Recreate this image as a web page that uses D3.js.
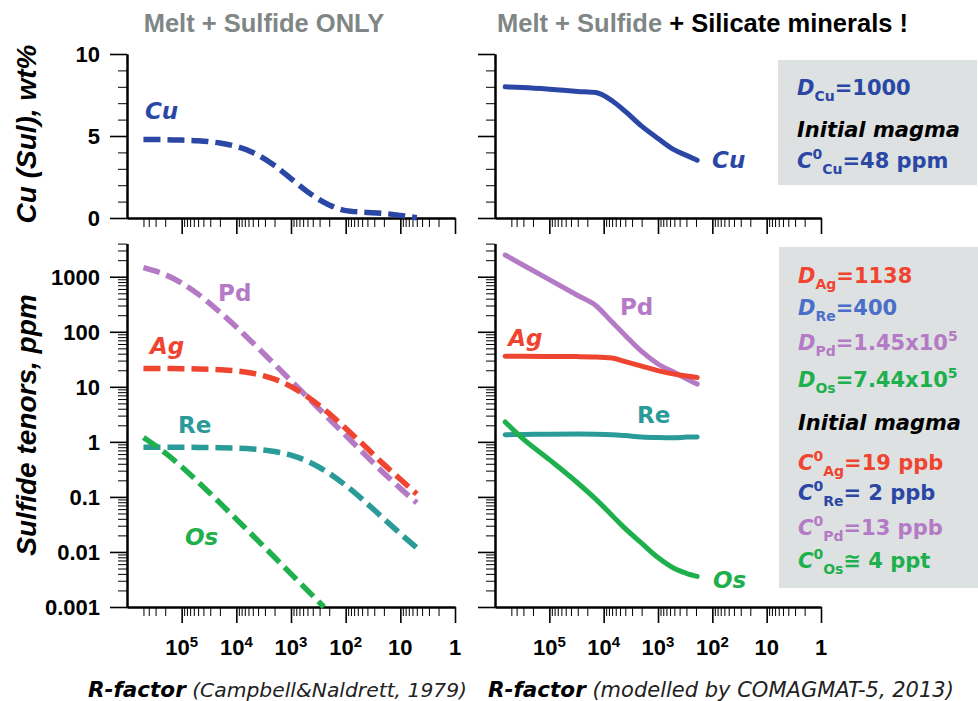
<!DOCTYPE html>
<html>
<head>
<meta charset="utf-8">
<script src="https://cdn.jsdelivr.net/npm/d3@7"></script>
<style>
  body { margin: 0; background: #fff; }
</style>
</head>
<body>
<svg id="chart" width="978" height="701"></svg>
<script>
// ---- data ----
// left: Campbell & Naldrett (melt + sulfide only), dashed
const rLeft  = [5e5, 2e5, 1e5, 5e4, 2e4, 1e4, 5e3, 2e3, 1e3, 500, 200, 100, 50, 20, 10, 5];
const cuLeft = [4.79, 4.78, 4.75, 4.71, 4.57, 4.36, 4.0, 3.2, 2.4, 1.6, 0.8, 0.45, 0.36, 0.28, 0.16, 0.02];
const agLeft = [21.5, 21.5, 21.4, 21.1, 20.4, 19.4, 17.6, 13.8, 10.1, 6.6, 3.25, 1.76, 0.93, 0.39, 0.21, 0.113];
const pdLeft = [1460, 1090, 770, 483, 228, 122, 63, 25.7, 12.9, 6.5, 2.6, 1.31, 0.66, 0.27, 0.143, 0.078];
const reLeft = [0.8, 0.8, 0.797, 0.794, 0.784, 0.769, 0.741, 0.667, 0.572, 0.445, 0.268, 0.162, 0.091, 0.04, 0.0215, 0.0119];
const rOsLeft = [5e5, 2e5, 1e5, 5e4, 2e4, 1e4, 5e3, 2e3, 1e3, 500, 250];
const osLeft  = [1.2, 0.63, 0.353, 0.187, 0.078, 0.0395, 0.0199, 0.008, 0.004, 0.002, 0.001];

// right: COMAGMAT-5 (melt + sulfide + silicate minerals), solid
const rRight  = [6.5e5, 3e5, 1e5, 3e4, 1.4e4, 7e3, 4e3, 2e3, 1e3, 500, 300, 190];
const cuRight = [8.0, 7.95, 7.85, 7.72, 7.65, 7.15, 6.5, 5.6, 4.85, 4.15, 3.82, 3.52];
const agRight = [36, 35.8, 35.6, 35.4, 35, 33.3, 28.7, 23.8, 19.7, 17.0, 15.7, 14.8];
const pdRight = [2480, 1620, 885, 457, 301, 150, 86, 44, 26, 18.2, 14.0, 11.2];
const reRight = [1.35, 1.36, 1.38, 1.39, 1.38, 1.35, 1.3, 1.23, 1.2, 1.19, 1.22, 1.23];
const osRight = [2.3, 1.12, 0.475, 0.179, 0.091, 0.046, 0.0265, 0.0144, 0.0079, 0.005, 0.0041, 0.0036];

// ticks
const xMajor = [1e5, 1e4, 1e3, 1e2, 10, 1];
const xMajorExp = ["5", "4", "3", "2", "", ""];
const xMajorBase = ["10", "10", "10", "10", "10", "1"];
const yTopMajor = [0, 5, 10];
const yBotMajor = [0.001, 0.01, 0.1, 1, 10, 100, 1000];
const yBotLabels = ["0.001", "0.01", "0.1", "1", "10", "100", "1000"];

const COL = {
    cu: "#2b47a6", ag: "#ef4530", pd: "#b47ac5", re: "#2a9b99", os: "#1eb04c",
    reLight: "#4a6fc8", gray: "#7f8686", box: "#dde1e1"
};
const SANS = "'Liberation Sans', Arial, sans-serif";
const WIDE = "'DejaVu Sans', Verdana, sans-serif";

const svg = d3.select("#chart");

// scales
const xL = d3.scaleLog().domain([1e6, 1]).range([127, 455]);
const xR = d3.scaleLog().domain([1e6, 1]).range([495, 821]);
const yTop = d3.scaleLinear().domain([0, 10]).range([218, 54]);
const yBot = d3.scaleLog().domain([0.001, 4000]).range([607, 243.6]);

function logMinors(lo, hi, maxVal) {
    const out = [];
    for (let e = lo; e <= hi; e++) {
        for (let k = 2; k <= 9; k++) {
            const v = k * Math.pow(10, e);
            if (v <= maxVal) out.push(v);
        }
    }
    return out;
}
const xMinor = logMinors(0, 5, 5e5);
const yBotMinor = logMinors(-3, 3, 4000);
const yTopMinor = [1, 2, 3, 4, 6, 7, 8, 9];

function styleAxis(g, width) {
    g.select(".domain").attr("stroke", "#000").attr("stroke-width", 2);
    g.selectAll(".tick line").attr("stroke", "#000").attr("stroke-width", width);
}

function drawXAxis(x, y0) {
    const gMin = svg.append("g").attr("transform", `translate(0,${y0})`)
        .call(d3.axisBottom(x).tickValues(xMinor).tickSize(9).tickSizeOuter(0).tickFormat(""));
    styleAxis(gMin, 1);
    const gMaj = svg.append("g").attr("transform", `translate(0,${y0})`)
        .call(d3.axisBottom(x).tickValues(xMajor).tickSize(16).tickSizeOuter(0).tickFormat(""));
    styleAxis(gMaj, 1.6);
}

function drawXLabels(x) {
    xMajor.forEach((v, i) => {
        const t = svg.append("text")
            .attr("x", x(v)).attr("y", 655)
            .attr("text-anchor", "middle")
            .attr("font-family", SANS).attr("font-size", 22).attr("font-weight", "bold")
            .text(xMajorBase[i]);
        if (xMajorExp[i]) {
            t.append("tspan").attr("dy", -8).attr("font-size", 15).text(xMajorExp[i]);
        }
    });
}

function drawYAxis(y, x0, majors, minors, labels) {
    const gMin = svg.append("g").attr("transform", `translate(${x0},0)`)
        .call(d3.axisLeft(y).tickValues(minors).tickSize(9).tickSizeOuter(0).tickFormat(""));
    styleAxis(gMin, 1);
    const gMaj = svg.append("g").attr("transform", `translate(${x0},0)`)
        .call(d3.axisLeft(y).tickValues(majors).tickSize(17).tickSizeOuter(0).tickPadding(10)
            .tickFormat((d, i) => labels ? labels[i] : ""));
    styleAxis(gMaj, 1.6);
    gMaj.selectAll(".tick text")
        .attr("font-family", SANS).attr("font-size", 22).attr("font-weight", "bold")
        .attr("fill", "#000").attr("dy", "0.36em");
}

// axes
drawYAxis(yTop, 127, yTopMajor, yTopMinor, ["0", "5", "10"]);
drawYAxis(yTop, 495, yTopMajor, yTopMinor, null);
drawYAxis(yBot, 127, yBotMajor, yBotMinor, yBotLabels);
drawYAxis(yBot, 495, yBotMajor, yBotMinor, null);
drawXAxis(xL, 218);
drawXAxis(xR, 218);
drawXAxis(xL, 607);
drawXAxis(xR, 607);
drawXLabels(xL);
drawXLabels(xR);

// curves
function drawCurve(x, y, rs, vs, color, dashed) {
    const line = d3.line()
        .x(d => x(d[0]))
        .y(d => y(d[1]))
        .curve(d3.curveMonotoneX);
    svg.append("path")
        .datum(d3.zip(rs, vs))
        .attr("d", line)
        .attr("fill", "none")
        .attr("stroke", color)
        .attr("stroke-width", dashed ? 5.5 : 5)
        .attr("stroke-linecap", dashed ? "butt" : "round")
        .attr("stroke-linejoin", "round")
        .attr("stroke-dasharray", dashed ? "17,7" : null);
}

drawCurve(xL, yTop, rLeft, cuLeft, COL.cu, true);
drawCurve(xL, yBot, rLeft, reLeft, COL.re, true);
drawCurve(xL, yBot, rOsLeft, osLeft, COL.os, true);
drawCurve(xL, yBot, rLeft, pdLeft, COL.pd, true);
drawCurve(xL, yBot, rLeft, agLeft, COL.ag, true);

drawCurve(xR, yTop, rRight, cuRight, COL.cu, false);
drawCurve(xR, yBot, rRight, reRight, COL.re, false);
drawCurve(xR, yBot, rRight, osRight, COL.os, false);
drawCurve(xR, yBot, rRight, pdRight, COL.pd, false);
drawCurve(xR, yBot, rRight, agRight, COL.ag, false);

// curve labels, anchored in data space [R, value]
const curveLabels = [
    {x: xL, y: yTop, r: 4.7e5, v: 6.04, t: "Cu", c: COL.cu, it: true},
    {x: xL, y: yBot, r: 2.16e4, v: 363, t: "Pd", c: COL.pd},
    {x: xL, y: yBot, r: 3.8e5, v: 39.5, t: "Ag", c: COL.ag, it: true},
    {x: xL, y: yBot, r: 1.17e5, v: 1.45, t: "Re", c: COL.re},
    {x: xL, y: yBot, r: 8.7e4, v: 0.0134, t: "Os", c: COL.os, it: true},
    {x: xR, y: yTop, r: 101, v: 3.05, t: "Cu", c: COL.cu, it: true},
    {x: xR, y: yBot, r: 5000, v: 202, t: "Pd", c: COL.pd},
    {x: xR, y: yBot, r: 5.7e5, v: 55, t: "Ag", c: COL.ag, it: true},
    {x: xR, y: yBot, r: 2430, v: 2.2, t: "Re", c: COL.re},
    {x: xR, y: yBot, r: 97, v: 0.0022, t: "Os", c: COL.os, it: true}
];
curveLabels.forEach(d => {
    svg.append("text")
        .attr("x", d.x(d.r)).attr("y", d.y(d.v))
        .attr("font-family", WIDE).attr("font-size", 23).attr("font-weight", "bold")
        .attr("font-style", d.it ? "italic" : null)
        .attr("fill", d.c)
        .text(d.t);
});

// titles
svg.append("text")
    .attr("x", 264).attr("y", 32).attr("text-anchor", "middle")
    .attr("font-family", SANS).attr("font-size", 25.5).attr("font-weight", "bold")
    .attr("fill", COL.gray).text("Melt + Sulfide ONLY");
const t2 = svg.append("text")
    .attr("x", 497).attr("y", 32)
    .attr("font-family", SANS).attr("font-size", 25.5).attr("font-weight", "bold");
t2.append("tspan").attr("fill", COL.gray).text("Melt + Sulfide");
t2.append("tspan").attr("fill", "#000").text(" + Silicate minerals !");

// y axis titles
function yTitle(text, cy) {
    svg.append("text")
        .attr("transform", `translate(36,${cy}) rotate(-90)`)
        .attr("text-anchor", "middle")
        .attr("font-family", SANS).attr("font-size", 28).attr("font-weight", "bold")
        .attr("font-style", "italic").attr("fill", "#000")
        .text(text);
}
yTitle("Cu (Sul), wt%", 134);
yTitle("Sulfide tenors, ppm", 425);

// x axis titles
function xTitle(x, note, noteSize) {
    const t = svg.append("text").attr("x", x).attr("y", 697)
        .attr("font-family", WIDE).attr("font-style", "italic").attr("fill", "#000");
    t.append("tspan").attr("font-size", 21.5).attr("font-weight", "bold").text("R-factor");
    t.append("tspan").attr("font-size", noteSize).attr("fill", "#222").text(" " + note);
}
xTitle(88, "(Campbell&Naldrett, 1979)", 20.3);
xTitle(488, "(modelled by COMAGMAT-5, 2013)", 21);

// info boxes
svg.append("rect").attr("x", 778).attr("y", 60).attr("width", 199).attr("height", 125).attr("fill", COL.box);
svg.append("rect").attr("x", 779).attr("y", 247).attr("width", 199).attr("height", 341).attr("fill", COL.box);

function rich(x, y, color, parts) {
    const t = svg.append("text").attr("x", x).attr("y", y)
        .attr("font-family", WIDE).attr("font-size", 21).attr("font-weight", "bold")
        .attr("fill", color);
    let shift = 0;
    parts.forEach(p => {
        const target = p.sub ? 6 : p.sup ? -9 : 0;
        t.append("tspan")
            .attr("dy", target - shift)
            .attr("font-size", (p.sub || p.sup) ? 14 : null)
            .attr("font-style", p.it ? "italic" : null)
            .text(p.t);
        shift = target;
    });
}

rich(797, 95, COL.cu, [{t: "D", it: 1}, {t: "Cu", sub: 1}, {t: "=1000"}]);
rich(797, 137, "#000", [{t: "Initial magma", it: 1}]);
rich(797, 168, COL.cu, [{t: "C", it: 1}, {t: "0", sup: 1}, {t: "Cu", sub: 1}, {t: "=48 ppm"}]);

rich(798, 283, COL.ag, [{t: "D", it: 1}, {t: "Ag", sub: 1}, {t: "=1138"}]);
rich(798, 315, COL.reLight, [{t: "D", it: 1}, {t: "Re", sub: 1}, {t: "=400"}]);
rich(798, 350, COL.pd, [{t: "D", it: 1}, {t: "Pd", sub: 1}, {t: "=1.45x10"}, {t: "5", sup: 1}]);
rich(798, 387, COL.os, [{t: "D", it: 1}, {t: "Os", sub: 1}, {t: "=7.44x10"}, {t: "5", sup: 1}]);
rich(798, 430, "#000", [{t: "Initial magma", it: 1}]);
rich(798, 470, COL.ag, [{t: "C", it: 1}, {t: "0", sup: 1}, {t: "Ag", sub: 1}, {t: "=19 ppb"}]);
rich(798, 500, COL.cu, [{t: "C", it: 1}, {t: "0", sup: 1}, {t: "Re", sub: 1}, {t: "= 2 ppb"}]);
rich(798, 535, COL.pd, [{t: "C", it: 1}, {t: "0", sup: 1}, {t: "Pd", sub: 1}, {t: "=13 ppb"}]);
rich(798, 568, COL.os, [{t: "C", it: 1}, {t: "0", sup: 1}, {t: "Os", sub: 1}, {t: "\u2245 4 ppt"}]);
</script>
</body>
</html>
